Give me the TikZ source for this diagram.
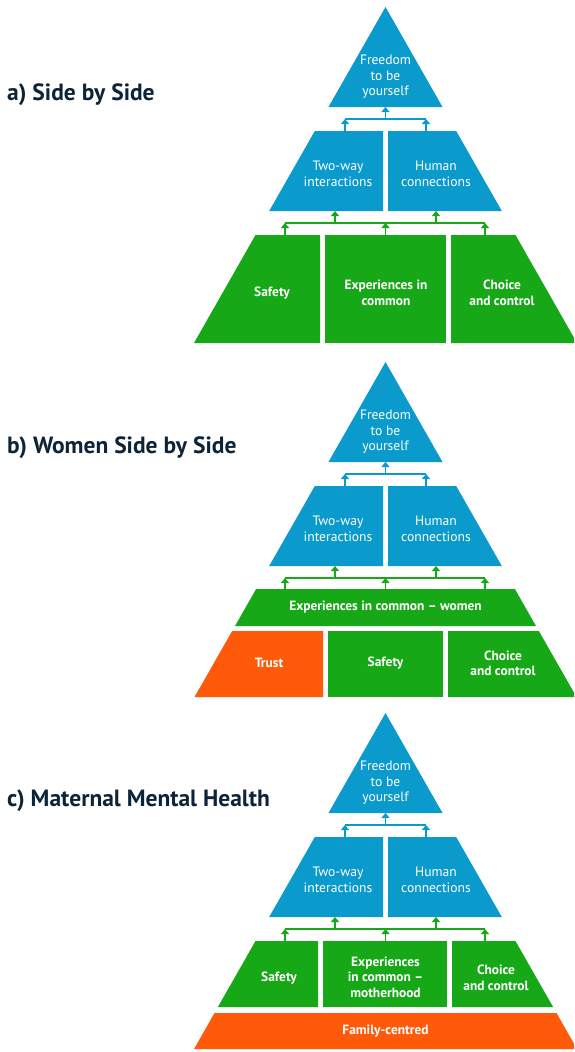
\documentclass[tikz,border=0pt]{standalone}
\usepackage{fontspec}
\setmainfont{PT Sans}
\usetikzlibrary{arrows.meta}
\definecolor{pblue}{HTML}{0A9ACB}
\definecolor{pgreen}{HTML}{17A817}
\definecolor{porange}{HTML}{FF5A0A}
\definecolor{ptitle}{HTML}{0D2438}
\tikzset{
  bluelbl/.style={text=white, font=\fontsize{13.6}{15.5}\selectfont, align=center, inner sep=0pt},
  greenlbl/.style={text=white, font=\bfseries\fontsize{13.4}{15.5}\selectfont, align=center, inner sep=0pt},
  ptitlestyle/.style={text=ptitle, font=\bfseries\fontsize{23.5}{26}\selectfont, anchor=base west, inner sep=0pt},
  barrow/.style={draw=pblue, line width=1.2pt, -{Triangle[width=8pt,length=5pt]}},
  garrow/.style={draw=pgreen, line width=1.2pt, -{Triangle[width=8pt,length=5pt]}},
  bline/.style={draw=pblue, line width=1.2pt},
  gline/.style={draw=pgreen, line width=1.2pt},
}
\newcommand\pyrtoppart{%
  \fill[pblue] (385.5,7) -- (442.5,107) -- (328.5,107) -- cycle;
  \node[bluelbl] (free) at (385.5,77) {Freedom\\to be\\yourself};
  \fill[pblue] (314.8,131) -- (383,131) -- (383,211) -- (269.2,211) -- cycle;
  \fill[pblue] (388,131) -- (456.2,131) -- (501.8,211) -- (388,211) -- cycle;
  \node[bluelbl] (two) at (338,174) {Two-way\\interactions};
  \node[bluelbl] (human) at (436,174) {Human\\connections};
  \coordinate (tb) at (385.5,107);
  \coordinate (bar) at (385.5,119);
  \coordinate (barL) at (345,119);
  \coordinate (barR) at (426,119);
  \coordinate (tL) at (345,131);
  \coordinate (tR) at (426,131);
  \draw[bline] (barL) -- (barR);
  \draw[barrow] (tL) -- (barL);
  \draw[barrow] (tR) -- (barR);
  \draw[barrow] (bar) -- (tb);
  \coordinate (mbL) at (335,211);
  \coordinate (mbR) at (436,211);
  \coordinate (glL) at (335,223);
  \coordinate (glR) at (436,223);
  \coordinate (g1) at (285,223);
  \coordinate (g2) at (385.5,223);
  \coordinate (g3) at (485,223);
  \coordinate (b1) at (285,235);
  \coordinate (b2) at (385.5,235);
  \coordinate (b3) at (485,235);
  \draw[gline] (g1) -- (g3);
  \draw[garrow] (glL) -- (mbL);
  \draw[garrow] (glR) -- (mbR);
  \draw[garrow] (b1) -- (g1);
  \draw[garrow] (b2) -- (g2);
  \draw[garrow] (b3) -- (g3);
}
\begin{document}
\begin{tikzpicture}[x=1pt,y=-1pt]
\useasboundingbox (0,0) rectangle (574,1052);
\clip (0,0) rectangle (574,1052);
\fill[white] (0,0) rectangle (574,1052);
% ---------------- a) ----------------
\begin{scope}[name prefix=a-]
  \node[ptitlestyle] (title) at (7,100) {a) Side by Side};
  \pyrtoppart
  \fill[pgreen] (255.5,235) -- (320,235) -- (320,343) -- (194,343) -- cycle;
  \fill[pgreen] (325,235) rectangle (446,343);
  \fill[pgreen] (451,235) -- (515.5,235) -- (577,343) -- (451,343) -- cycle;
  \node[greenlbl] (safety) at (272,293) {Safety};
  \node[greenlbl] (exp) at (386,293) {Experiences in\\common};
  \node[greenlbl] (choice) at (502,293) {Choice\\and control};
\end{scope}
% ---------------- b) ----------------
\begin{scope}[name prefix=b-]
  \node[ptitlestyle] (title) at (7,453) {b) Women Side by Side};
  \begin{scope}[yshift=-355pt]
    \pyrtoppart
  \end{scope}
  \fill[pgreen] (256.1,589) -- (514.9,589) -- (536,626) -- (235,626) -- cycle;
  \node[greenlbl] (exp) at (385.5,607) {Experiences in common -- women};
  \fill[porange] (232.2,631) -- (323,631) -- (323,697) -- (194.5,697) -- cycle;
  \fill[pgreen] (328,631) rectangle (443,697);
  \fill[pgreen] (448,631) -- (538.8,631) -- (576.5,697) -- (448,697) -- cycle;
  \node[greenlbl] (trust) at (269,663) {Trust};
  \node[greenlbl] (safety) at (385.5,663) {Safety};
  \node[greenlbl] (choice) at (503,663.5) {Choice\\and control};
\end{scope}
% ---------------- c) ----------------
\begin{scope}[name prefix=c-]
  \node[ptitlestyle] (title) at (7,806) {c) Maternal Mental Health};
  \begin{scope}[yshift=-706pt]
    \pyrtoppart
  \end{scope}
  \fill[pgreen] (255.5,941) -- (318,941) -- (318,1007) -- (217.9,1007) -- cycle;
  \fill[pgreen] (323,941) rectangle (447,1007);
  \fill[pgreen] (452,941) -- (515.5,941) -- (553.1,1007) -- (452,1007) -- cycle;
  \node[greenlbl] (safety) at (279,978) {Safety};
  \node[greenlbl] (exp) at (385.5,977) {Experiences\\in common --\\motherhood};
  \node[greenlbl] (choice) at (496,978) {Choice\\and control};
  \fill[porange] (214.5,1013) -- (556.5,1013) -- (577,1049) -- (194,1049) -- cycle;
  \node[greenlbl] (family) at (385.5,1031) {Family-centred};
\end{scope}
\end{tikzpicture}
\end{document}
